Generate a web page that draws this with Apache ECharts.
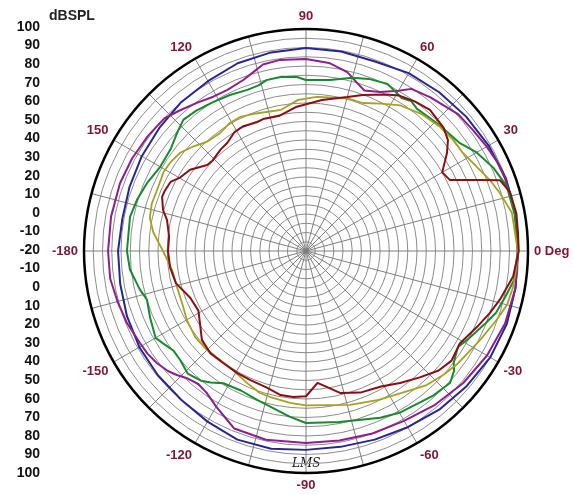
<!DOCTYPE html>
<html>
<head>
<meta charset="utf-8">
<script src="https://cdn.jsdelivr.net/npm/echarts@6.0.0/dist/echarts.min.js"></script>
<style>html,body{margin:0;padding:0;background:#fff;}#c{width:574px;height:495px;}</style>
</head>
<body>
<div id="c"></div>
<script>
// Left scale tick labels (dB SPL), top to bottom
var tickLabels = ['100','90','80','70','60','50','40','30','20','10','0','-10','-20','-10','0','10','20','30','40','50','60','70','80','90','100'];

// Blue curve
var blueAng = [0,10,20,30,40,50,60,70,80,90,100,110,120,130,140,150,160,170,180,-170,-160,-150,-140,-130,-120,-110,-100,-90,-80,-70,-60,-50,-40,-30,-20,-10,0];
var blueDb  = [94.5,95,95,94,93,92,91,89,89.5,89.7,89,88,86,85,83.5,82.5,81.5,80.8,81.6,82,83,84,84.5,85,86.5,88.5,88.5,87.5,87.5,88.5,90,92,93.5,95,95.5,95,94.5];

// Purple curve
var purpleAng = [0,10,20,25,30,36,42,51,57,60,65,70,73,77,83,90,98,103,107,110,116,121,126,132,137,144,152,160,170,180,-172,-165,-158,-151,-147,-143,-139,-136,-133,-129,-125,-120,-115,-112,-102,-90,-80,-70,-60,-50,-40,-30,-20,-10,0];
var purpleDb  = [94.5,95,94.5,94,92.8,91.4,90.6,86.9,84.5,80,74.8,72.3,74.9,79.2,82.4,83.8,84.2,83.5,80.4,78.5,76.9,77.3,79.3,82.2,84.9,85.7,86.5,87,87,87,86.9,85.5,84.3,82.6,82.1,80.8,78.9,76.7,74.1,72.5,73.6,77.1,80.8,83.5,84.3,83.8,84,85,86,88.5,91,93,94.5,95,94.5];

// Green curve
var greenAng = [0,10,18,24,30,35,44,52,55,58,64,70,75,82,90,93,98,103,106,110,116,122,128,133,137.5,143,150,157,163,169,180,-174,-167,-163,-157,-150,-147,-143,-139,-134,-129,-126,-122,-115,-108,-102,-95.5,-90,-79,-66,-60,-49,-42.5,-39,-37,-32.3,-29,-22,-18,-13,-8,0];
var greenDb  = [94.5,94.5,94,90.8,86.5,81.6,79,77.5,79,77.5,80.5,79,76.9,73.3,72.4,74.2,75.1,74.8,73.1,72.7,73.8,74.9,76.3,77.1,74.5,71.6,71,73.5,75.4,76.9,76.8,75.7,72.2,69.9,71.6,73.9,71.9,69.6,70,72.1,70.2,67.8,64.3,63.2,64.8,66.7,70.1,73,74.2,78.7,81,84,85.6,83,80,77.2,79.4,84.5,88,90.5,93.5,94.5];

// Olive curve
var oliveAng = [0,10.5,16.6,21,26,32,37,43,50,57,63,69,75,86,93,100,110,116,121,126,132,137,142,147,151,158,163,168,173,180,-172,-164,-157,-150,-142,-135,-128,-121.5,-114,-108,-103,-96,-90,-74,-64,-56,-48,-42,-37,-32,-27.5,-20,-15,-10,-5,0];
var oliveDb  = [94.5,93.2,89.4,86.6,83,80,79.6,78.7,76.8,73.8,69.4,65.7,65.6,63.5,61.8,57.5,59.1,60.7,60.5,58.9,59.6,63,66.3,67.6,68,67,67.2,66.3,63.2,57.3,53.1,52.4,52.7,54.4,55.9,55.7,55,55.5,58.2,60.7,61.4,62.5,63.5,66.5,69.5,72.5,77.5,80,82,83.5,85.5,89.5,92.5,93.6,94,94.5];

// Dark red curve
var redAng = [0,5,10,16,20,22.2,24.1,26.2,30,34.8,38,42,48.7,54,59,63,70,75,84,94,101,108,111,117,121,126,130,136,139,145,150,153,157,159.4,164,167.4,174,180,-173,-166,-158,-151,-146,-139.5,-133,-126.5,-119.5,-113.5,-106,-100,-95,-90,-85,-76.5,-69,-61,-54.5,-48,-42,-37,-31,-24,-18.6,-14,-7,0];
var redDb  = [95,95,95.5,94.8,91.7,81.6,74.1,66.8,65,72.8,77.4,79.9,81.5,80,78,75,69.7,66.2,62.1,58,54.5,55,54.5,55.5,55,52.3,51.7,50.3,50.8,56.5,59,62.2,63,63.1,60.4,57,54.4,54.6,54,52.4,47.5,46.5,49.2,54,55.7,55.3,55.7,56,56.8,59.1,59.2,58.5,51.6,58.9,62,63.7,67.6,71.9,76.5,78.5,77,81.1,84.9,88.1,92.8,95];

function pairs(ang, db) {
  var out = [];
  for (var i = 0; i < ang.length; i++) out.push([db[i], ang[i]]);
  return out;
}
function curve(name, ang, db, color, w) {
  return {
    name: name, type: 'line', coordinateSystem: 'polar',
    data: pairs(ang, db), symbol: 'none', smooth: false,
    lineStyle: { color: color, width: w }, silent: true
  };
}

var chart = echarts.init(document.getElementById('c'), null, { renderer: 'canvas' });
chart.setOption({
  animation: false,
  backgroundColor: '#ffffff',
  title: {
    text: 'dBSPL', left: 44, top: 4,
    textStyle: { fontSize: 14, fontWeight: 'bold', color: '#222', fontFamily: 'Liberation Sans, Arial, sans-serif' }
  },
  grid: { left: 48, top: 27, bottom: 22, width: 1 },
  xAxis: { type: 'value', show: false },
  yAxis: {
    type: 'category', data: tickLabels, inverse: true, boundaryGap: false,
    axisLine: { show: false }, axisTick: { show: false }, splitLine: { show: false },
    axisLabel: { interval: 0, margin: 8, fontSize: 14, fontWeight: 'bold', color: '#111',
      fontFamily: 'Liberation Sans, Arial, sans-serif' }
  },
  polar: { center: [306, 251], radius: 222 },
  angleAxis: {
    type: 'value', min: -180, max: 180, interval: 15,
    startAngle: 180, clockwise: false,
    axisLine: { show: true, lineStyle: { color: '#000', width: 2.5 } },
    axisTick: { show: false },
    splitLine: { show: true, lineStyle: { color: '#7f7f7f', width: 1 } },
    axisLabel: {
      margin: 6, fontSize: 13, fontWeight: 'bold', color: '#7d1634',
      fontFamily: 'Liberation Sans, Arial, sans-serif',
      formatter: function (v) { if (v % 30 !== 0) return ''; return v === 0 ? '0 Deg' : String(v); }
    }
  },
  radiusAxis: {
    type: 'value', min: -20, max: 100, interval: 5,
    axisLine: { show: false }, axisTick: { show: false }, axisLabel: { show: false },
    splitLine: { show: true, lineStyle: { color: '#8c8c8c', width: 1 } }
  },
  graphic: [{
    type: 'text', left: 292, top: 458, silent: true,
    style: { text: 'LMS', font: 'italic 12px "DejaVu Serif", serif', fill: '#111' }
  }],
  series: [
    curve('blue', blueAng, blueDb, '#26268f', 2),
    curve('purple', purpleAng, purpleDb, '#8e1e8e', 2),
    curve('green', greenAng, greenDb, '#178a2e', 2),
    curve('olive', oliveAng, oliveDb, '#a6a21e', 1.8),
    curve('red', redAng, redDb, '#8a0f14', 2)
  ]
});
</script>
</body>
</html>
